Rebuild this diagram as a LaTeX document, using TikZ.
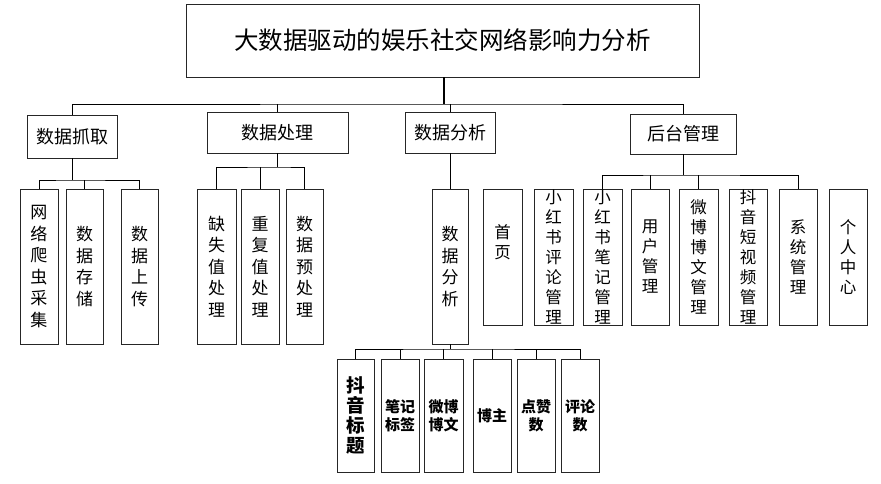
\documentclass[tikz,border=0pt]{standalone}
\usepackage{fontspec}
\setmainfont{Noto Sans CJK SC}
\begin{document}
\begin{tikzpicture}[x=1pt,y=-1pt,
  box/.style={draw=black!85,line width=0.9pt,inner sep=0pt,rectangle},
  ln/.style={draw=black,line width=0.8pt},
  vt/.style={inner sep=0pt,align=center,font=\fontsize{17}{21.5}\selectfont},
  vtb/.style={inner sep=0pt,align=center,font=\fontsize{16.5}{20}\selectfont},
  bt/.style={inner sep=0pt,align=center,font=\fontsize{15}{18}\selectfont\bfseries},
  lone/.style={box,minimum width=38pt,minimum height=155pt},
  ltwo/.style={box,minimum width=38pt,minimum height=136pt},
  lthree/.style={box,minimum width=38pt,minimum height=113pt}]
\useasboundingbox (0,0) rectangle (881,484);
% title
\node[box,minimum width=513pt,minimum height=73pt,font=\fontsize{24.5}{26}\selectfont] (title) at (442.5,40.5) {大数据驱动的娱乐社交网络影响力分析};
% second level
\node[box,minimum width=90pt,minimum height=43pt,font=\fontsize{18}{20}\selectfont] (s1) at (72,136.5) {数据抓取};
\node[box,minimum width=141pt,minimum height=41pt,font=\fontsize{18}{20}\selectfont] (s2) at (277.5,132.5) {数据处理};
\node[box,minimum width=90pt,minimum height=41pt,font=\fontsize{18}{20}\selectfont] (s3) at (450,132.5) {数据分析};
\node[box,minimum width=106pt,minimum height=40pt,font=\fontsize{18}{20}\selectfont] (s4) at (683,134) {后台管理};
% leaves row 1
\node[lone] (a1) at (39,266.5) {};
\node[vt] (a1t) at (a1) {网\\络\\爬\\虫\\采\\集};
\node[lone,minimum width=37pt] (a2) at (84.5,266.5) {};
\node[vt] (a2t) at (a2) {数\\据\\存\\储};
\node[lone,minimum width=37pt] (a3) at (139.5,266.5) {};
\node[vt] (a3t) at (a3) {数\\据\\上\\传};
\node[lone,minimum width=39pt] (b1) at (216.5,266.5) {};
\node[vt] (b1t) at (b1) {缺\\失\\值\\处\\理};
\node[lone] (b2) at (260,266.5) {};
\node[vt] (b2t) at (b2) {重\\复\\值\\处\\理};
\node[lone,minimum width=37pt] (b3) at (304.5,266.5) {};
\node[vt] (b3t) at (b3) {数\\据\\预\\处\\理};
\node[lone,minimum width=36pt] (c1) at (450,266.5) {};
\node[vt] (c1t) at (c1) {数\\据\\分\\析};
% back-end row
\node[ltwo,minimum width=39pt] (d1) at (502.5,257) {};
\node[vtb] (d1t) at (502.5,242) {首\\页};
\node[ltwo,minimum width=39pt] (d2) at (553.5,257) {};
\node[vtb] (d2t) at (d2) {小\\红\\书\\评\\论\\管\\理};
\node[ltwo,minimum width=39pt] (d3) at (602.5,257) {};
\node[vtb] (d3t) at (d3) {小\\红\\书\\笔\\记\\管\\理};
\node[ltwo] (d4) at (650,257) {};
\node[vtb] (d4t) at (d4) {用\\户\\管\\理};
\node[ltwo,minimum width=39pt] (d5) at (698.5,257) {};
\node[vtb] (d5t) at (d5) {微\\博\\博\\文\\管\\理};
\node[ltwo] (d6) at (748,257) {};
\node[vtb] (d6t) at (d6) {抖\\音\\短\\视\\频\\管\\理};
\node[ltwo] (d7) at (798,257) {};
\node[vtb] (d7t) at (d7) {系\\统\\管\\理};
\node[ltwo] (d8) at (848,257) {};
\node[vtb] (d8t) at (d8) {个\\人\\中\\心};
% bottom row
\node[lthree,minimum width=37pt] (e1) at (355.5,415.5) {};
\node[bt,font=\fontsize{18.5}{20}\selectfont\bfseries] (e1t) at (e1) {抖\\音\\标\\题};
\node[lthree] (e2) at (400,415.5) {};
\node[bt] (e2t) at (e2) {笔记\\标签};
\node[lthree,minimum width=39pt] (e3) at (443.5,415.5) {};
\node[bt] (e3t) at (e3) {微博\\博文};
\node[lthree] (e4) at (492,415.5) {};
\node[bt] (e4t) at (e4) {博主};
\node[lthree] (e5) at (536,415.5) {};
\node[bt] (e5t) at (e5) {点赞\\数};
\node[lthree] (e6) at (580,415.5) {};
\node[bt] (e6t) at (e6) {评论\\数};
% connectors
\coordinate (j0) at (444,104);
\draw[line width=1.5pt] (title.south -| j0) -- (j0);
\draw[ln] (s1.north) |- (j0) -| (s4.north);
\draw[ln] (s2.north) -- (s2.north |- j0);
\draw[ln] (s3.north) -- (s3.north |- j0);
\coordinate (j1) at (72,180);
\draw[ln] (s1.south) -- (j1);
\draw[ln] (a1.north) |- (j1) -| (a3.north);
\draw[ln] (a2.north) -- (a2.north |- j1);
\coordinate (j2) at (277.5,167);
\draw[ln] (s2.south) -- (j2);
\draw[ln] (b1.north) |- (j2) -| (b3.north);
\draw[ln] (b2.north) -- (b2.north |- j2);
\draw[ln] (s3.south) -- (c1.north);
\coordinate (j3) at (450,349);
\draw[ln] (c1.south) -- (j3);
\draw[ln] (e1.north) |- (j3) -| (e6.north);
\draw[ln] (e2.north) -- (e2.north |- j3);
\draw[ln] (e3.north) -- (e3.north |- j3);
\draw[ln] (e4.north) -- (e4.north |- j3);
\draw[ln] (e5.north) -- (e5.north |- j3);
\coordinate (j4) at (683,175);
\draw[ln] (s4.south) -- (j4);
\draw[ln] (d3.north) |- (j4) -| (d7.north);
\draw[ln] (d4.north) -- (d4.north |- j4);
\draw[ln] (d5.north) -- (d5.north |- j4);
\end{tikzpicture}
\end{document}
